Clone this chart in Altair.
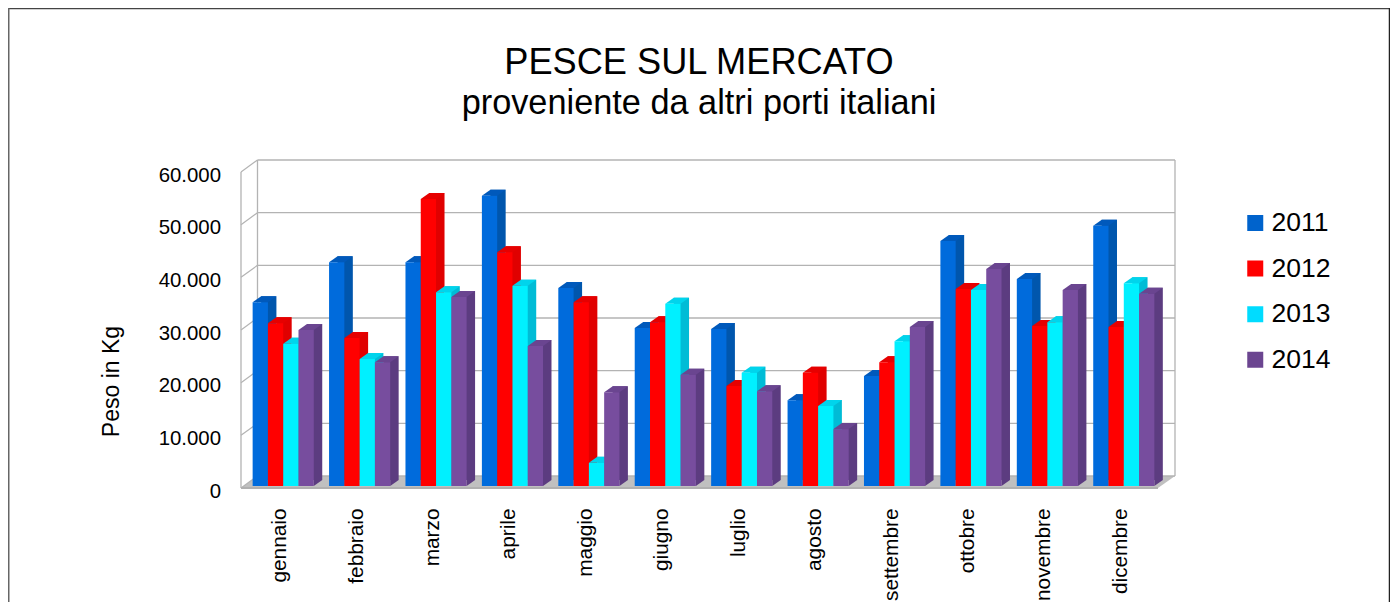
import altair as alt
import pandas as pd

months = ["gennaio", "febbraio", "marzo", "aprile", "maggio", "giugno", "luglio",
          "agosto", "settembre", "ottobre", "novembre", "dicembre"]
series = ["2011", "2012", "2013", "2014"]
v2011 = [34900, 42500, 42500, 55100, 37600, 30000, 29800, 16300, 20900, 46500, 39300, 49400]
v2012 = [30900, 28100, 54500, 44400, 34900, 31100, 19000, 21500, 23500, 37400, 30400, 30200]
v2013 = [27000, 24100, 36800, 38000, 4400, 34600, 21500, 15200, 27500, 37200, 31100, 38500]
v2014 = [29600, 23500, 35900, 26600, 17800, 21100, 18000, 10800, 30200, 41200, 37200, 36500]
ticks = [0, 10000, 20000, 30000, 40000, 50000, 60000]

front_colors = ["#006bdc", "#ff0000", "#00f0ff", "#774d9e"]
side_colors = ["#0056ad", "#e00000", "#00bcd6", "#5c3c80"]
top_colors = ["#0059bb", "#e60000", "#00d4ec", "#6a4590"]
legend_colors = ["#0063cc", "#ff0000", "#00dcff", "#6b4590"]

FONT = "Liberation Sans"
GRID = "#b3b3b3"
W, H = 934, 316

df = pd.DataFrame(
    [{"month": m, "series": s, "value": vals[i]}
     for s, vals in zip(series, [v2011, v2012, v2013, v2014])
     for i, m in enumerate(months)]
)
tick_df = pd.DataFrame({"tick": ticks})
dummy = pd.DataFrame({"a": [0]})

x_enc = alt.X(
    "month:N",
    sort=months,
    scale=alt.Scale(domain=months, range=[4, 921], paddingInner=0.2, paddingOuter=0.1),
    axis=alt.Axis(
        title=None, labelAngle=270, labelFontSize=20.8, labelFont=FONT, labelColor="#000",
        labelPadding=20, ticks=False, domain=False, grid=False, labelOverlap=False,
        labelAlign="right", labelBaseline="middle", labelOffset=-3, labelFlush=False,
    ),
)
dx, dy, base = 8.5, 6, 2
hw = 7.64
xo = alt.XOffset("series:N", scale=alt.Scale(domain=series))
xo_side = alt.XOffset("series:N", scale=alt.Scale(domain=series, range=[dx, dx + 61.1]))
y_scale = alt.Scale(domain=[0, 60000], nice=False)
y_axis = alt.Axis(
    title="Peso in Kg", titleFontSize=23, titleFont=FONT, titleFontWeight="normal",
    titleColor="#000", titleX=-117.5, titleY=209, titleAngle=270,
    labelFontSize=20.4, labelFont=FONT, labelColor="#000", labelPadding=20.5, labelOffset=3,
    ticks=False, domain=False, grid=False, values=ticks, labelFlush=False,
    labelExpr="replace(format(datum.value, ','), ',', '.')",
)
y_plain = alt.Y("value:Q", scale=y_scale, axis=y_axis)


def col(colors):
    return alt.Color("series:N", scale=alt.Scale(domain=series, range=colors), legend=None)


top_path = f"M {-hw} 0 L {hw} 0 L {hw+dx} {-dy} L {-hw+dx} {-dy} Z"
tri_path = f"M {hw} 0 L {hw+dx} {-dy} L {hw} {-dy} Z"

# frame
frame_t = alt.Chart(dummy).mark_rule(color="#444444", strokeWidth=1.5).encode(
    x=alt.value(-233), x2=alt.value(1149), y=alt.value(-163.5))
frame_l = alt.Chart(dummy).mark_rule(color="#666666", strokeWidth=2).encode(
    x=alt.value(-232.5), y=alt.value(-164), y2=alt.value(430))
frame_r = alt.Chart(dummy).mark_rule(color="#222222", strokeWidth=1.5).encode(
    x=alt.value(1148.5), y=alt.value(-164), y2=alt.value(430))

# walls
floor = alt.Chart(dummy).mark_point(
    shape="M 0 0 L 917 0 L 934 -12 L 16.5 -12 Z", filled=True, size=4, opacity=1,
    color="#c0c0c0", strokeWidth=0,
).encode(x=alt.value(0), y=alt.value(H))
back_grid = alt.Chart(tick_df).mark_rule(color=GRID, strokeWidth=1.3, yOffset=-12).encode(
    y=alt.Y("tick:Q", scale=y_scale, axis=y_axis), x=alt.value(16.5), x2=alt.value(934))
side_grid = alt.Chart(tick_df).mark_point(
    shape="M 0 0 L 16.5 -12", filled=False, size=4, opacity=1, color=GRID, strokeWidth=1.2,
).encode(y=alt.Y("tick:Q", scale=y_scale, axis=y_axis), x=alt.value(0))
wall_front = alt.Chart(dummy).mark_rule(color=GRID, strokeWidth=1.3).encode(
    x=alt.value(0), y=alt.value(0), y2=alt.value(H))
wall_back = alt.Chart(dummy).mark_rule(color=GRID, strokeWidth=1.3).encode(
    x=alt.value(16.5), y=alt.value(-12), y2=alt.value(H - 12))
wall_right = alt.Chart(dummy).mark_rule(color=GRID, strokeWidth=1.3).encode(
    x=alt.value(934), y=alt.value(-12), y2=alt.value(H - 12))
floor_edge = alt.Chart(dummy).mark_rule(color="#b0b0b0", strokeWidth=2).encode(
    x=alt.value(0), x2=alt.value(917), y=alt.value(H))

base_chart = alt.Chart(df)
side = base_chart.mark_bar(yOffset=-(base + dy), y2Offset=-(base + dy), strokeWidth=0).encode(
    x=x_enc, xOffset=xo_side, y=y_plain, color=col(side_colors))
side_tri = base_chart.mark_point(
    shape=tri_path, filled=True, size=4, opacity=1, strokeWidth=0, yOffset=-base,
).encode(x=x_enc, xOffset=xo, y=alt.datum(0, scale=y_scale, axis=y_axis), color=col(side_colors))
top = base_chart.mark_point(
    shape=top_path, filled=True, size=4, opacity=1, strokeWidth=0, yOffset=-base,
).encode(x=x_enc, xOffset=xo, y=y_plain, color=col(top_colors))
front = base_chart.mark_bar(yOffset=-base, y2Offset=-base, strokeWidth=0).encode(
    x=x_enc, xOffset=xo, y=y_plain, color=col(front_colors))

legend_layer = alt.Chart(pd.DataFrame({"series": series})).mark_square(size=0, opacity=1).encode(
    color=alt.Color(
        "series:N",
        scale=alt.Scale(domain=series, range=legend_colors),
        legend=alt.Legend(
            title=None, orient="none", legendX=1001, legendY=37, symbolType="square",
            symbolSize=256, symbolStrokeWidth=0, symbolOpacity=1, labelFontSize=26.5,
            labelFont=FONT, labelColor="#000", rowPadding=17.6, labelOffset=3,
            values=series, clipHeight=28,
        ),
    ),
    x=alt.value(100), y=alt.value(100),
)

chart = alt.layer(
    frame_t, frame_l, frame_r, floor, back_grid, side_grid, wall_front, wall_back, wall_right,
    floor_edge, side, side_tri, top, front, legend_layer,
).resolve_scale(color="independent", xOffset="independent").properties(
    width=W,
    height=H,
    background="white",
    padding={"left": 233, "top": 164, "right": 215, "bottom": 115},
    autosize=alt.AutoSizeParams(type="none"),
    title=alt.TitleParams(
        text="PESCE SUL MERCATO",
        subtitle="proveniente da altri porti italiani",
        font=FONT, fontSize=36.2, fontWeight="normal", color="#000",
        subtitleFont=FONT, subtitleFontSize=34.3, subtitleColor="#000",
        subtitleFontWeight="normal", subtitlePadding=6,
        anchor="middle", frame="bounds", offset=0, dy=114,
    ),
).configure_view(strokeWidth=0)

chart.save("out.html", embed_options={"renderer": "svg", "actions": False})
